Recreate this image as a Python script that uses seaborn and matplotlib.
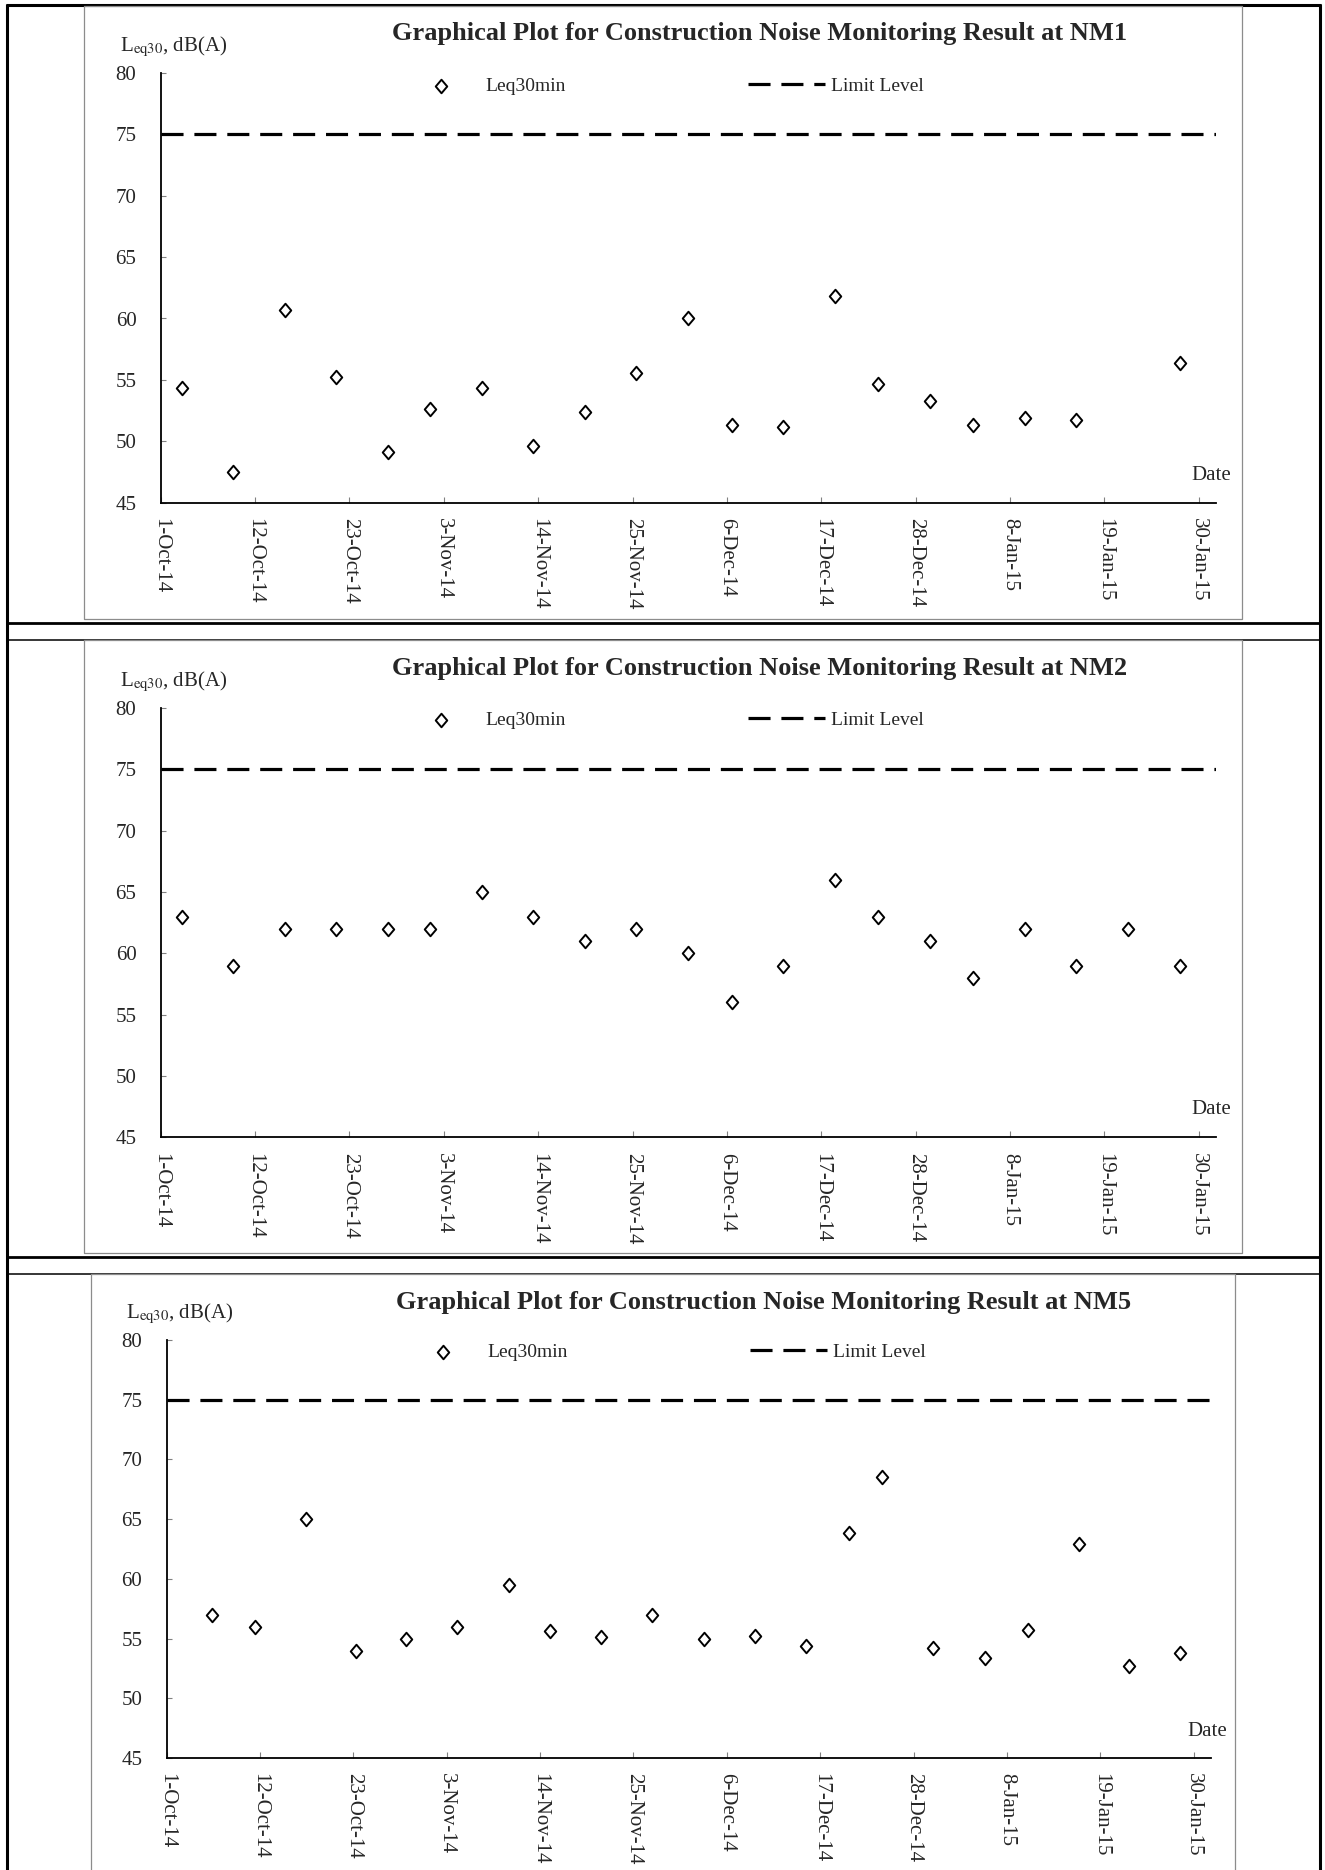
import matplotlib
matplotlib.use("Agg")
import matplotlib.pyplot as plt
from matplotlib.path import Path
from matplotlib.ticker import FixedLocator, FuncFormatter
import matplotlib.dates as mdates
import pandas as pd
import seaborn as sns

# ---------------------------------------------------------------- data
nm1_times = ["2014-10-03 12:00", "2014-10-09 11:00", "2014-10-15 12:00", "2014-10-21 11:00",
             "2014-10-27 12:00", "2014-11-01 10:00", "2014-11-07 10:00", "2014-11-13 10:00",
             "2014-11-19 10:00", "2014-11-25 10:00", "2014-12-01 10:00", "2014-12-06 14:00",
             "2014-12-12 14:00", "2014-12-18 14:00", "2014-12-23 14:00", "2014-12-29 15:00",
             "2015-01-03 17:00", "2015-01-09 17:00", "2015-01-15 17:00", "2015-01-27 19:00"]
nm1_leq = [54.3, 47.5, 60.7, 55.2, 49.1, 52.6, 54.3, 49.6, 52.4, 55.6,
           60.0, 51.3, 51.2, 61.8, 54.7, 53.3, 51.3, 51.9, 51.7, 56.4]

nm2_times = ["2014-10-03 12:00", "2014-10-09 11:00", "2014-10-15 12:00", "2014-10-21 11:00",
             "2014-10-27 12:00", "2014-11-01 10:00", "2014-11-07 10:00", "2014-11-13 10:00",
             "2014-11-19 10:00", "2014-11-25 10:00", "2014-12-01 10:00", "2014-12-06 14:00",
             "2014-12-12 14:00", "2014-12-18 14:00", "2014-12-23 14:00", "2014-12-29 15:00",
             "2015-01-03 17:00", "2015-01-09 17:00", "2015-01-15 17:00", "2015-01-21 17:00",
             "2015-01-27 19:00"]
nm2_leq = [63, 59, 62, 62, 62, 62, 65, 63, 61, 62, 60,
           56, 59, 66, 63, 61, 58, 62, 59, 62, 59]

nm5_times = ["2014-10-06 10:00", "2014-10-11 09:00", "2014-10-17 09:00", "2014-10-23 07:00",
             "2014-10-29 06:00", "2014-11-04 06:00", "2014-11-10 07:00", "2014-11-15 05:00",
             "2014-11-21 05:00", "2014-11-27 05:00", "2014-12-03 06:00", "2014-12-09 07:00",
             "2014-12-15 07:00", "2014-12-20 10:00", "2014-12-24 07:00", "2014-12-30 07:00",
             "2015-01-05 10:00", "2015-01-10 10:00", "2015-01-16 12:00", "2015-01-22 10:00",
             "2015-01-28 10:00"]
nm5_leq = [57.0, 56.0, 65.0, 54.0, 55.0, 56.0, 59.5, 55.6, 55.1, 57.0, 55.0,
           55.2, 54.4, 63.8, 68.5, 54.2, 53.4, 55.7, 62.9, 52.7, 53.8]

stations = ["NM1", "NM2", "NM5"]
limit_level = 75
y_ticks = [45, 50, 55, 60, 65, 70, 75, 80]
x_start, x_end = "2014-10-01", "2015-02-01"
x_tick_dates = pd.date_range("2014-10-01", "2015-01-30", freq="11D")

# ---------------------------------------------------------------- style
sns.set_style("white")
plt.rcParams["font.family"] = ["Liberation Serif", "DejaVu Serif"]
plt.rcParams["mathtext.fontset"] = "stix"

W, H = 1325, 1870
fig = plt.figure(figsize=(W / 100, H / 100), dpi=100)
fig.patch.set_facecolor("white")

# page-level layer in pixel units: table rules, chart frames, texts
page = fig.add_axes([0, 0, 1, 1])
page.set_xlim(0, W)
page.set_ylim(H, 0)
page.axis("off")

# outer table rules
page.vlines([7, 1320], 4, H, color="black", lw=2.2)
page.hlines(5, 6, 1321, color="black", lw=2.2)
page.hlines([623, 1257], 6, 1321, color="black", lw=2.0)
page.hlines([640, 1274], 6, 1321, color="black", lw=1.1)

# chart-area frames (left, right, top, bottom) in pixels
frames = [(84, 1242, 6, 619), (84, 1242, 640, 1253), (90.5, 1235, 1274, 1875)]
for l, r, t, b in frames:
    page.plot([l, r, r, l, l], [t, t, b, b, t], color="#8c8c8c", lw=0.9)

# plot-area boxes (left, right, top, bottom) in pixels
boxes = [(160.7, 1216, 72.9, 502.7), (160.7, 1216, 708, 1137.3), (166.5, 1210.8, 1340, 1758)]
title_pos = [(759.5, 33.5), (759.5, 668), (764, 1302)]
ylabel_pos = [(120, 51), (120, 686), (126, 1318)]
date_pos = [(1211, 476), (1211, 1110), (1207, 1732)]
legend_pos = [(403, 86), (403, 720), (405, 1352)]

diamond = Path([(0, 1), (0.85, 0), (0, -1), (-0.85, 0), (0, 1)],
               [Path.MOVETO, Path.LINETO, Path.LINETO, Path.LINETO, Path.CLOSEPOLY])

series = [(nm1_times, nm1_leq), (nm2_times, nm2_leq), (nm5_times, nm5_leq)]


def date_label(v, _pos):
    d = mdates.num2date(v)
    return f"{d.day}-{d.strftime('%b-%y')}"


for i, (times, leq) in enumerate(series):
    l, r, t, b = boxes[i]
    ax = fig.add_axes([l / W, 1 - b / H, (r - l) / W, (b - t) / H])
    ax.patch.set_alpha(0)
    df = pd.DataFrame({"Date": pd.to_datetime(times), "Leq": leq})

    sns.scatterplot(data=df, x="Date", y="Leq", ax=ax, marker=diamond, s=95,
                    color="white", edgecolor="black", linewidth=1.4,
                    label="Leq30min", zorder=3, legend=False)
    ax.axhline(limit_level, color="black", lw=2.3, ls=(0, (6.9, 3.4)),
               label="Limit Level", zorder=2)

    ax.set_ylim(45, 80)
    ax.set_xlim(pd.Timestamp(x_start), pd.Timestamp(x_end))
    ax.yaxis.set_major_locator(FixedLocator(y_ticks))
    ax.xaxis.set_major_locator(FixedLocator(mdates.date2num(x_tick_dates)))
    ax.xaxis.set_major_formatter(FuncFormatter(date_label))
    ax.set_xlabel("")
    ax.set_ylabel("")

    for side in ("top", "right"):
        ax.spines[side].set_visible(False)
    for side in ("left", "bottom"):
        ax.spines[side].set_color("black")
        ax.spines[side].set_linewidth(1.3)

    ax.tick_params(axis="y", direction="in", length=3.5, width=0.8, color="#808080",
                   labelsize=15, pad=17.5, left=True)
    ax.tick_params(axis="x", direction="in", length=4.5, width=0.8, color="#808080",
                   labelsize=15, pad=11, labelrotation=-90, bottom=True)

    handles, labels = ax.get_legend_handles_labels()
    lx, ly = legend_pos[i]
    ax.legend(handles, labels, ncol=2, frameon=False, fontsize=14,
              loc="center left", bbox_to_anchor=(lx / W, 1 - ly / H),
              bbox_transform=fig.transFigure, borderpad=0, borderaxespad=0,
              handlelength=3.95, handletextpad=0.28, columnspacing=9.4,
              scatterpoints=1)

    tx, ty = title_pos[i]
    page.text(tx, ty, f"Graphical Plot for Construction Noise Monitoring Result at {stations[i]}",
              ha="center", va="center", fontsize=19, fontweight="bold")
    yx, yy = ylabel_pos[i]
    page.text(yx, yy, r"L$_{\mathrm{eq30}}$, dB(A)", ha="left", va="baseline", fontsize=15)
    dx, dy = date_pos[i]
    page.text(dx, dy, "Date", ha="center", va="center", fontsize=15)

fig.savefig("out.png", dpi=100, facecolor="white")
